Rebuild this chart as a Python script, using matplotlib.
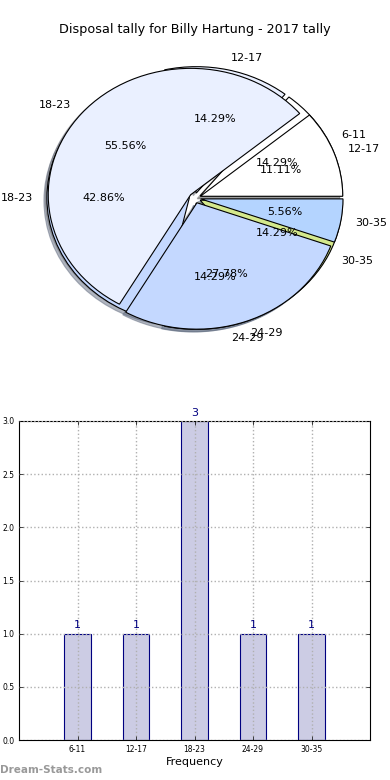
import matplotlib
matplotlib.use('Agg')
import matplotlib.pyplot as plt
import numpy as np

# data
bins_all = ['6-11', '12-17', '18-23', '24-29', '30-35']
counts_all = [1, 1, 3, 1, 1]
bins_b = ['12-17', '18-23', '24-29', '30-35']
counts_b = [2, 10, 5, 1]
title = 'Disposal tally for Billy Hartung - 2017 tally'

colors_a = ['#ffffff', '#eaf0ff', '#c4d8ff', '#b4d4ff', '#d4e88c']
colors_b = ['#ffffff', '#eaf0ff', '#c4d8ff', '#b4d4ff']

fig = plt.figure(figsize=(3.9, 7.8), dpi=100)
fig.text(0.5, 1 - 30 / 780, title, ha='center', va='center', fontsize=9.2)

# pie chart (two pies drawn on top of each other, old-style stretched axes)
ax1 = fig.add_axes([17 / 390, 424 / 780, 356 / 390, 316 / 780])
shadow = {'ox': -0.015, 'oy': -0.015, 'shade': 0.5}
ax1.pie(counts_all, labels=bins_all, colors=colors_a, autopct='%.2f%%',
        explode=[0.04] * len(counts_all), shadow=shadow,
        wedgeprops={'edgecolor': 'black', 'linewidth': 0.8},
        textprops={'fontsize': 8})
ax1.pie(counts_b, labels=bins_b, colors=colors_b, autopct='%.2f%%',
        explode=[0.04] * len(counts_b), shadow=shadow,
        wedgeprops={'edgecolor': 'black', 'linewidth': 0.8},
        textprops={'fontsize': 8})
ax1.set_aspect('auto')
ax1.set_xlim(-1.25, 1.25)
ax1.set_ylim(-1.25, 1.25)

# bar chart
ax2 = fig.add_axes([19 / 390, 40 / 780, 351 / 390, 319 / 780])
x = np.arange(len(bins_all))
ax2.bar(x, counts_all, width=0.45, color='#ccccE4', edgecolor='navy',
        linewidth=0.8, zorder=2)
for xi, c in zip(x, counts_all):
    ax2.text(xi, c + 0.03, str(c), ha='center', va='bottom', color='navy',
             fontsize=8)
ax2.set_xlim(-1, 5)
ax2.set_ylim(0, 3)
ax2.set_xticks(x)
ax2.set_xticklabels(bins_all)
ax2.set_yticks(np.arange(0, 3.01, 0.5))
ax2.tick_params(direction='in', top=True, right=True, labelsize=5.5,
                length=3, width=0.5)
ax2.grid(True, linestyle=':', color='#b0b0b0', linewidth=1.0, zorder=0)
ax2.set_axisbelow(False)
ax2.set_xlabel('Frequency', fontsize=8, labelpad=2)

fig.text(0.0, 1 - 770 / 780, 'Dream-Stats.com', ha='left', va='center',
         fontsize=7.5, color='#999999', fontweight='bold')

fig.savefig('out.png', dpi=100)
